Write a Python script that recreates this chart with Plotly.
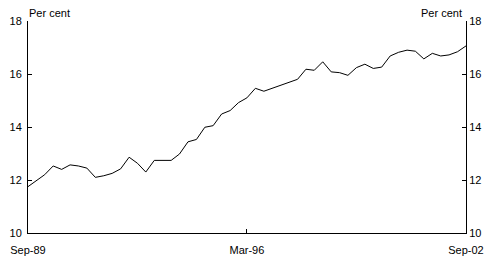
import pandas as pd
import plotly.graph_objects as go

quarters = pd.date_range("1989-09-01", "2002-09-01", freq="3MS")
values = [11.75, 11.98, 12.2, 12.53, 12.4, 12.57, 12.53, 12.45, 12.1, 12.16,
          12.25, 12.42, 12.86, 12.63, 12.3, 12.74, 12.74, 12.74, 12.98, 13.44,
          13.53, 13.99, 14.05, 14.49, 14.62, 14.92, 15.1, 15.46, 15.35, 15.46,
          15.58, 15.71, 15.8, 16.18, 16.14, 16.46, 16.08, 16.05, 15.95, 16.24,
          16.37, 16.21, 16.26, 16.68, 16.82, 16.9, 16.86, 16.57, 16.78, 16.68,
          16.72, 16.84, 17.06]
y_ticks = [10, 12, 14, 16, 18]
x_tick_dates = ["1989-09-01", "1996-03-01", "2002-09-01"]
x_tick_labels = ["Sep-89", "Mar-96", "Sep-02"]

font = dict(family="Liberation Sans, Arial, sans-serif", size=11, color="black")

fig = go.Figure()
fig.add_trace(go.Scatter(x=quarters, y=values, mode="lines",
                         line=dict(color="black", width=1), showlegend=False))
fig.add_trace(go.Scatter(x=quarters, y=values, mode="lines", yaxis="y2",
                         line=dict(color="rgba(0,0,0,0)", width=0), showlegend=False,
                         hoverinfo="skip"))

fig.update_layout(
    width=492, height=265,
    margin=dict(l=28, r=26, t=21, b=32, autoexpand=False),
    paper_bgcolor="white", plot_bgcolor="white",
    font=font,
    xaxis=dict(range=[quarters[0], quarters[-1]], tickvals=x_tick_dates, ticktext=x_tick_labels,
               showgrid=False, zeroline=False, showline=True, linecolor="black", linewidth=1,
               ticks="inside", ticklen=4, tickcolor="black", tickfont=font,
               ticklabelstandoff=7, automargin=False),
    yaxis=dict(range=[10, 18], tickvals=y_ticks, showgrid=False, zeroline=False,
               showline=True, linecolor="black", linewidth=1,
               ticks="inside", ticklen=4, tickcolor="black", tickfont=font,
               ticklabelstandoff=3, automargin=False),
    yaxis2=dict(range=[10, 18], tickvals=y_ticks, overlaying="y", side="right",
                showgrid=False, zeroline=False, showline=True, linecolor="black", linewidth=1,
                ticks="inside", ticklen=4, tickcolor="black", tickfont=font,
                automargin=False),
    annotations=[
        dict(text="Per cent", xref="paper", yref="paper", x=0, y=1, xanchor="left",
             yanchor="bottom", showarrow=False, font=font, xshift=-1, yshift=0),
        dict(text="Per cent", xref="paper", yref="paper", x=1, y=1, xanchor="right",
             yanchor="bottom", showarrow=False, font=font, xshift=-2, yshift=0),
    ],
)

fig.write_html("out.html")
